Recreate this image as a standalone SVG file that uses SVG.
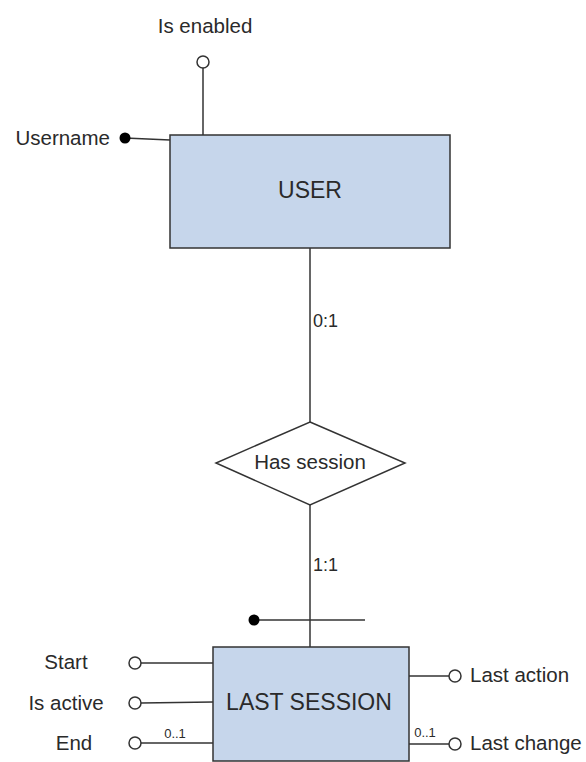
<svg xmlns="http://www.w3.org/2000/svg" width="586" height="762" viewBox="0 0 586 762">
  <style>
    text { font-family: "Liberation Sans", Arial, sans-serif; fill: #2a2a2a; }
    .lbl { font-size: 20.5px; }
    .card { font-size: 18px; }
    .name { font-size: 23px; }
    .small { font-size: 13px; }
    .ent { fill: #c6d6eb; stroke: #333; stroke-width: 1.5; }
    .rel { fill: #fff; stroke: #333; stroke-width: 1.5; }
    .ln { stroke: #333; stroke-width: 1.5; fill: none; }
    .opt { fill: #fff; stroke: #333; stroke-width: 1.5; }
    .key { fill: #000; }
  </style>
  <rect width="586" height="762" fill="#fff"/>

  <g id="connectors">
    <line class="ln" x1="310" y1="248" x2="310" y2="422"/>
    <line class="ln" x1="310" y1="505" x2="310" y2="647"/>
    <line class="ln" x1="253" y1="620" x2="365" y2="620"/>
    <text class="card" x="313" y="327">0:1</text>
    <text class="card" x="313" y="571">1:1</text>
  </g>

  <g id="user">
    <rect class="ent" x="170" y="135" width="280" height="113"/>
    <text class="name" x="310" y="198" text-anchor="middle">USER</text>
  </g>

  <g id="attr-is-enabled">
    <line class="ln" x1="203" y1="68" x2="203" y2="135"/>
    <circle class="opt" cx="203" cy="62" r="6"/>
    <text class="lbl" x="205" y="33" text-anchor="middle">Is enabled</text>
  </g>

  <g id="attr-username">
    <line class="ln" x1="125" y1="138" x2="170" y2="140"/>
    <circle class="key" cx="125" cy="138" r="5.5"/>
    <text class="lbl" x="110" y="145" text-anchor="end">Username</text>
  </g>

  <g id="has-session">
    <polygon class="rel" points="310,422 405,463 310,505 216,463"/>
    <text class="lbl" x="310" y="469" text-anchor="middle">Has session</text>
  </g>

  <g id="session-key">
    <circle class="key" cx="254" cy="620" r="5.5"/>
  </g>

  <g id="last-session">
    <rect class="ent" x="213" y="647" width="196" height="114"/>
    <text class="name" x="309" y="710" text-anchor="middle">LAST SESSION</text>
  </g>

  <g id="attr-start">
    <line class="ln" x1="141" y1="663" x2="213" y2="663"/>
    <circle class="opt" cx="135" cy="663" r="6"/>
    <text class="lbl" x="66" y="669" text-anchor="middle">Start</text>
  </g>

  <g id="attr-is-active">
    <line class="ln" x1="141" y1="703" x2="213" y2="702"/>
    <circle class="opt" cx="135" cy="703" r="6"/>
    <text class="lbl" x="66" y="710" text-anchor="middle">Is active</text>
  </g>

  <g id="attr-end">
    <line class="ln" x1="141" y1="743" x2="213" y2="743"/>
    <circle class="opt" cx="135" cy="743" r="6"/>
    <text class="lbl" x="74" y="750" text-anchor="middle">End</text>
    <text class="small" x="175" y="738" text-anchor="middle">0..1</text>
  </g>

  <g id="attr-last-action">
    <line class="ln" x1="409" y1="676" x2="449" y2="676"/>
    <circle class="opt" cx="455" cy="676" r="6"/>
    <text class="lbl" x="470" y="682">Last action</text>
  </g>

  <g id="attr-last-change">
    <line class="ln" x1="409" y1="744" x2="449" y2="744"/>
    <circle class="opt" cx="455" cy="744" r="6"/>
    <text class="lbl" x="470" y="750">Last change</text>
    <text class="small" x="425" y="737" text-anchor="middle">0..1</text>
  </g>
</svg>
